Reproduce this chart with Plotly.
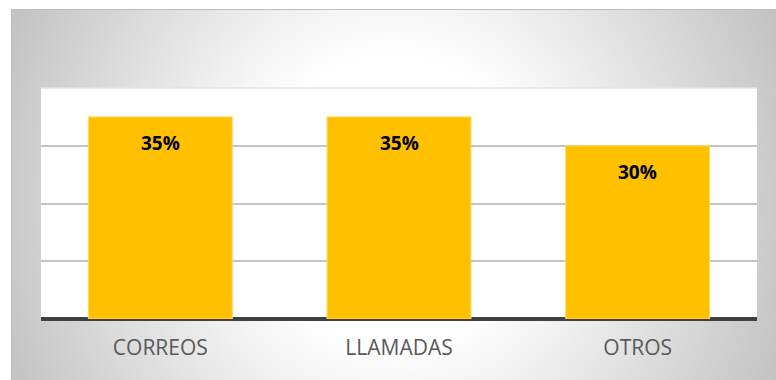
import base64
import plotly.graph_objects as go

# Data
categories = ["CORREOS", "LLAMADAS", "OTROS"]
shares = [35, 35, 30]          # percent
share_labels = ["35%", "35%", "30%"]

# Canvas / layout geometry (pixels)
W, H = 776, 380
M_L, M_R, M_T, M_B = 41, 19, 88, 61
PLOT_W = W - M_L - M_R
PLOT_H = H - M_T - M_B
BOX_X0, BOX_Y0 = 11, 9            # top-left corner of the shaded chart box

GOLD = "#FFC000"
FONT = "Open Sans"

# Radial gradient backdrop for the chart box (white centre fading to grey)
bw, bh = W - BOX_X0, H - BOX_Y0
cx, cy, rx, ry = 382, 191, 420, 450
svg = f"""<svg xmlns='http://www.w3.org/2000/svg' width='{bw}' height='{bh}' viewBox='0 0 {bw} {bh}' preserveAspectRatio='none'>
<defs><radialGradient id='g' gradientUnits='userSpaceOnUse' cx='0' cy='0' r='1'
 gradientTransform='translate({cx},{cy}) scale({rx},{ry})'>
<stop offset='0' stop-color='#ffffff'/><stop offset='0.32' stop-color='#ffffff'/>
<stop offset='1' stop-color='#c2c2c2'/></radialGradient></defs>
<rect x='0' y='0' width='{bw}' height='{bh}' fill='url(#g)'/>
</svg>"""
bg_uri = "data:image/svg+xml;base64," + base64.b64encode(svg.encode()).decode()


def px_to_paper_x(px):
    return (px - M_L) / PLOT_W


def px_to_paper_y(py):
    return (H - M_B - py) / PLOT_H


fig = go.Figure()
fig.add_trace(go.Bar(
    x=categories,
    y=shares,
    marker=dict(color=GOLD, line=dict(color="#FFD966", width=1)),
    width=0.603,
    hoverinfo="skip",
))

for cat, val, lab in zip(categories, shares, share_labels):
    fig.add_annotation(
        x=cat, y=val, text=f"<b>{lab}</b>", showarrow=False,
        yanchor="middle", yshift=-26,
        font=dict(family=FONT, size=19, color="#000000"),
    )

fig.add_layout_image(dict(
    source=bg_uri, xref="paper", yref="paper",
    x=px_to_paper_x(BOX_X0), y=px_to_paper_y(BOX_Y0),
    sizex=bw / PLOT_W, sizey=bh / PLOT_H,
    xanchor="left", yanchor="top", sizing="stretch", layer="below",
))

# white plot area sitting on top of the gradient, beneath the gridlines
fig.add_shape(type="rect", xref="paper", yref="paper",
              x0=0, x1=1, y0=0, y1=1,
              fillcolor="#ffffff", line=dict(width=0), layer="below")
# faint edge at the top of the plot area
fig.add_shape(type="line", xref="paper", yref="paper",
              x0=0, x1=1, y0=1, y1=1,
              line=dict(color="#e3e3e3", width=1.5), layer="below")
# thin border along the top and left of the chart box
fig.add_shape(type="line", xref="paper", yref="paper",
              x0=px_to_paper_x(BOX_X0), x1=px_to_paper_x(W),
              y0=px_to_paper_y(BOX_Y0 + 0.5), y1=px_to_paper_y(BOX_Y0 + 0.5),
              line=dict(color="#bdbdbd", width=1), layer="above")
fig.add_shape(type="line", xref="paper", yref="paper",
              x0=px_to_paper_x(BOX_X0 + 0.5), x1=px_to_paper_x(BOX_X0 + 0.5),
              y0=px_to_paper_y(BOX_Y0), y1=px_to_paper_y(H),
              line=dict(color="#bdbdbd", width=1), layer="above")

fig.update_layout(
    width=W, height=H,
    margin=dict(l=M_L, r=M_R, t=M_T, b=M_B),
    paper_bgcolor="#ffffff",
    plot_bgcolor="#ffffff",
    showlegend=False,
    bargap=0.397,
    font=dict(family=FONT),
)
fig.update_xaxes(
    showgrid=False, showline=False, ticks="",
    tickfont=dict(family=FONT, size=21, color="#595959"),
    ticklabelstandoff=14,
    fixedrange=True,
)
fig.update_yaxes(
    range=[0, 40], tickvals=[10, 20, 30], showticklabels=False,
    showgrid=True, gridcolor="#c4c4c4", gridwidth=1.5,
    zeroline=True, zerolinecolor="#404040", zerolinewidth=3.5,
    showline=False, fixedrange=True,
)

fig.write_html("out.html", config={"displayModeBar": False})
